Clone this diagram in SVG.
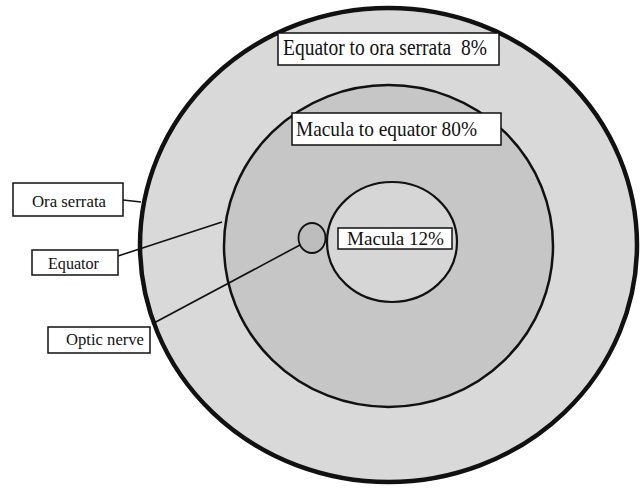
<svg xmlns="http://www.w3.org/2000/svg" width="642" height="489" viewBox="0 0 642 489">
<style>
.box{fill:#fff;stroke:#111;stroke-width:1.5}
.t{font-family:"Liberation Serif","Times New Roman",serif;fill:#111}
.con{stroke:#111;stroke-width:1.6;fill:none}
</style>
<rect width="642" height="489" fill="#fff"/>
<g id="outer-ring"><ellipse cx="388.5" cy="245" rx="248.5" ry="237" fill="#d9d9d9" stroke="#111" stroke-width="4.5"/></g>
<g id="middle-ring"><ellipse cx="388.5" cy="246" rx="164.5" ry="161" fill="#c6c6c6" stroke="#111" stroke-width="2.5"/></g>
<g id="macula"><ellipse cx="392" cy="242" rx="65" ry="60" fill="#d6d6d6" stroke="#111" stroke-width="2.2"/></g>
<g id="optic-disc"><ellipse cx="312" cy="238" rx="13.5" ry="15" fill="#bdbdbd" stroke="#111" stroke-width="1.8"/></g>
<g id="connectors">
<line class="con" x1="123" y1="200" x2="141" y2="202"/>
<line class="con" x1="118" y1="256" x2="222" y2="222"/>
<line class="con" x1="152" y1="324" x2="300" y2="245"/>
</g>
<g id="label-equator-ora"><rect class="box" x="278" y="33" width="221" height="32"/><text class="t" x="283" y="55" font-size="22.5" textLength="204" lengthAdjust="spacingAndGlyphs">Equator to ora serrata&#160; 8%</text></g>
<g id="label-macula-equator"><rect class="box" x="292" y="113" width="209" height="32"/><text class="t" x="296" y="136" font-size="22" textLength="181" lengthAdjust="spacingAndGlyphs">Macula to equator 80%</text></g>
<g id="label-macula"><rect class="box" x="338" y="228" width="114" height="21"/><text class="t" x="347" y="245" font-size="19" textLength="97" lengthAdjust="spacingAndGlyphs">Macula 12%</text></g>
<g id="label-ora-serrata"><rect class="box" x="13" y="183" width="110" height="33"/><text class="t" x="32" y="207" font-size="17" textLength="74" lengthAdjust="spacingAndGlyphs">Ora serrata</text></g>
<g id="label-equator"><rect class="box" x="32" y="250" width="86" height="25"/><text class="t" x="48" y="269" font-size="17" textLength="51" lengthAdjust="spacingAndGlyphs">Equator</text></g>
<g id="label-optic-nerve"><rect class="box" x="48" y="327" width="102" height="26"/><text class="t" x="66" y="345" font-size="17" textLength="78" lengthAdjust="spacingAndGlyphs">Optic nerve</text></g>
</svg>
